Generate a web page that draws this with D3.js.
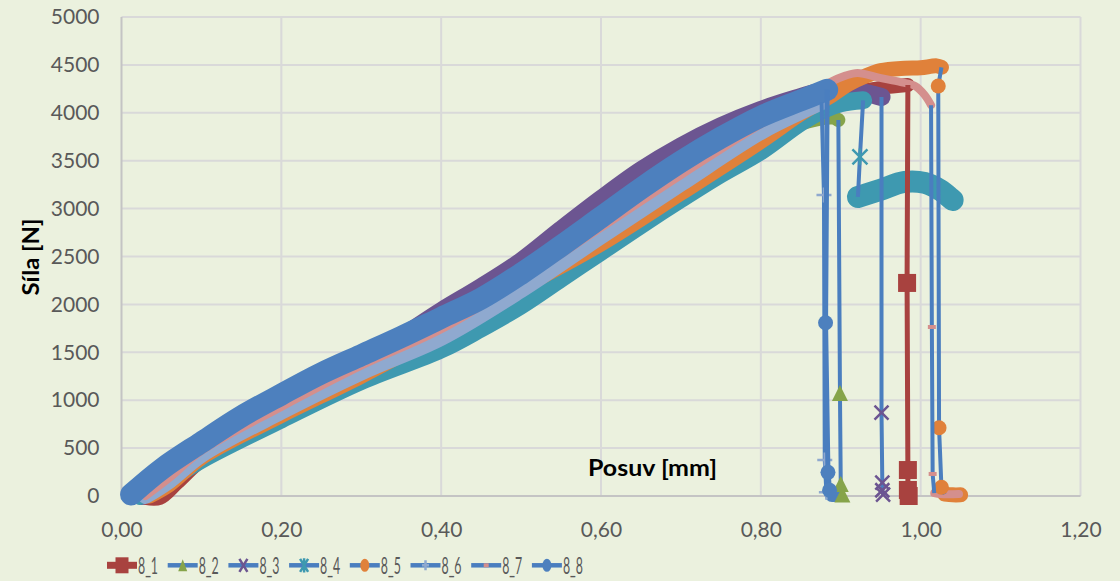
<!DOCTYPE html>
<html><head><meta charset="utf-8">
<script src="https://cdn.jsdelivr.net/npm/d3@7"></script>
<style>
html,body{margin:0;padding:0;background:#EBF1DE;}
svg{display:block;}
text{font-family:Lato,"Open Sans",sans-serif;}
</style></head><body>
<svg id="chart" width="1120" height="581"></svg>
<script>
// ---------------- DATA (mm, N) ----------------
const seriesNames = ["8_1","8_2","8_3","8_4","8_5","8_6","8_7","8_8"];
const xTicks = [0, 0.2, 0.4, 0.6, 0.8, 1.0, 1.2];
const yTicks = [0, 500, 1000, 1500, 2000, 2500, 3000, 3500, 4000, 4500, 5000];
const xTitle = "Posuv [mm]";
const yTitle = "Síla [N]";

// dense (rising) part, sparse drop part, dense tail part of every series
const rise8_1 = [[0.030,-20],[0.048,-20],[0.07,140],[0.10,370],[0.15,600],[0.20,810],[0.30,1230],[0.40,1600],[0.50,2100],[0.60,2650],[0.70,3200],[0.80,3740],[0.85,4000],[0.90,4180],[0.95,4260],[0.984,4290]];
const fall8_1 = [[0.983,2224],[0.984,271],[0.984,63],[0.985,0]];
const tail8_1 = [];

const rise8_2 = [[0.015,0],[0.05,180],[0.10,420],[0.20,880],[0.30,1320],[0.40,1800],[0.50,2300],[0.60,2800],[0.70,3300],[0.80,3720],[0.85,3890],[0.89,3950],[0.897,3925]];
const fall8_2 = [[0.899,1075],[0.900,125],[0.902,15]];
const tail8_2 = [];

const rise8_3 = [[0.025,0],[0.05,190],[0.10,480],[0.20,1000],[0.30,1420],[0.35,1660],[0.40,1930],[0.45,2180],[0.50,2450],[0.55,2780],[0.60,3100],[0.65,3400],[0.70,3650],[0.75,3860],[0.80,4030],[0.84,4140],[0.875,4220],[0.91,4240],[0.935,4200],[0.951,4165]];
const fall8_3 = [[0.951,870],[0.952,140],[0.952,60],[0.953,15]];
const tail8_3 = [];

const rise8_4 = [[0.023,0],[0.05,120],[0.10,380],[0.20,800],[0.30,1200],[0.40,1530],[0.45,1750],[0.50,1990],[0.55,2270],[0.60,2550],[0.65,2830],[0.70,3100],[0.75,3360],[0.80,3600],[0.85,3900],[0.88,4040],[0.90,4100],[0.928,4130]];
const fall8_4 = [[0.924,3540]];
const tail8_4 = [[0.9215,3122],[0.949,3195],[0.98,3278],[1.005,3268],[1.024,3195],[1.037,3111],[1.040,3090]];

const rise8_5 = [[0.035,0],[0.06,120],[0.10,400],[0.20,840],[0.30,1250],[0.40,1700],[0.50,2170],[0.60,2630],[0.70,3160],[0.80,3700],[0.85,3990],[0.89,4190],[0.91,4300],[0.93,4380],[0.95,4440],[0.98,4465],[1.00,4470],[1.02,4490],[1.026,4475]];
const fall8_5 = [[1.022,4280],[1.023,713],[1.026,91]];
const tail8_5 = [[1.03,20],[1.04,12],[1.05,12]];

const rise8_6 = [[0.03,0],[0.06,160],[0.10,430],[0.20,880],[0.30,1290],[0.40,1650],[0.50,2150],[0.60,2710],[0.70,3260],[0.80,3800],[0.85,4010],[0.876,4110]];
const fall8_6 = [[0.879,3142],[0.880,376],[0.882,40]];
const tail8_6 = [];

const rise8_7 = [[0.03,0],[0.06,190],[0.10,470],[0.20,930],[0.30,1360],[0.40,1740],[0.50,2250],[0.60,2800],[0.70,3350],[0.80,3880],[0.85,4110],[0.87,4230],[0.887,4320],[0.905,4385],[0.921,4416],[0.949,4364],[0.974,4322],[0.993,4280],[1.005,4186],[1.013,4080]];
const fall8_7 = [[1.014,1764],[1.015,230]];
const tail8_7 = [[1.017,30],[1.025,20],[1.048,20]];

const rise8_8 = [[0.012,15],[0.05,280],[0.10,560],[0.15,830],[0.20,1060],[0.25,1280],[0.30,1470],[0.35,1660],[0.40,1860],[0.45,2060],[0.50,2320],[0.55,2610],[0.60,2910],[0.65,3210],[0.70,3490],[0.75,3740],[0.80,3960],[0.85,4130],[0.883,4240]];
const fall8_8 = [[0.881,1808],[0.884,247],[0.886,60]];
const tail8_8 = [[0.889,15],[0.893,15]];

// ---------------- STYLE ----------------
const LBLUE = "#4A7EBF";
const styles = {
  "8_1": {line:"#A8423F", lw:5,   mark:"#A8423F", shape:"square",   ms:18, band:14, tband:16},
  "8_2": {line:LBLUE,     lw:4,   mark:"#86A44A", shape:"triangle", ms:16, band:14, tband:14},
  "8_3": {line:LBLUE,     lw:4,   mark:"#6C5591", shape:"x",        ms:14, band:18, tband:14},
  "8_4": {line:LBLUE,     lw:4,   mark:"#3E99B0", shape:"star",     ms:15, band:18, tband:22},
  "8_5": {line:LBLUE,     lw:4,   mark:"#E0813A", shape:"circle",   ms:15, band:15, tband:15},
  "8_6": {line:LBLUE,     lw:4,   mark:"#8FA9CF", shape:"plus",     ms:15, band:16, tband:14},
  "8_7": {line:LBLUE,     lw:4,   mark:"#D48F8D", shape:"dash",     ms:8,  band:8,  tband:8},
  "8_8": {line:LBLUE,     lw:5,   mark:"#4D80BE", shape:"circle",   ms:15, band:22, tband:15}
};
const dataBySeries = {
  "8_1": {rise:rise8_1, fall:fall8_1, tail:tail8_1},
  "8_2": {rise:rise8_2, fall:fall8_2, tail:tail8_2},
  "8_3": {rise:rise8_3, fall:fall8_3, tail:tail8_3},
  "8_4": {rise:rise8_4, fall:fall8_4, tail:tail8_4},
  "8_5": {rise:rise8_5, fall:fall8_5, tail:tail8_5},
  "8_6": {rise:rise8_6, fall:fall8_6, tail:tail8_6},
  "8_7": {rise:rise8_7, fall:fall8_7, tail:tail8_7},
  "8_8": {rise:rise8_8, fall:fall8_8, tail:tail8_8}
};

// ---------------- CHART ----------------
const svg = d3.select("#chart");
const x = d3.scaleLinear().domain([0, 1.2]).range([121.5, 1080.5]);
const y = d3.scaleLinear().domain([0, 5000]).range([496, 17]);

svg.append("rect").attr("width",1120).attr("height",581).attr("fill","#EBF1DE");

// grid
const grid = svg.append("g");
grid.selectAll("line.v").data(xTicks.filter(d => d > 0)).join("line")
  .attr("x1", d => x(d)).attr("x2", d => x(d)).attr("y1", y(5000)).attr("y2", y(0))
  .attr("stroke", "#D9D9D9").attr("stroke-width", 2);
grid.selectAll("line.h").data(yTicks.filter(d => d > 0)).join("line")
  .attr("x1", x(0)).attr("x2", x(1.2)).attr("y1", d => y(d)).attr("y2", d => y(d))
  .attr("stroke", "#D9D9D9").attr("stroke-width", 2);
// axis lines
svg.append("line").attr("x1", x(0)).attr("x2", x(0)).attr("y1", y(5000)).attr("y2", y(0))
  .attr("stroke", "#C4C4C4").attr("stroke-width", 2);
svg.append("line").attr("x1", x(0)).attr("x2", x(1.2)).attr("y1", y(0)).attr("y2", y(0))
  .attr("stroke", "#C4C4C4").attr("stroke-width", 2);

// tick labels
const fmtX = d => d3.format(".2f")(d).replace(".", ",");
const gx = svg.append("g").attr("transform", `translate(0,${y(0)})`)
  .call(d3.axisBottom(x).tickValues(xTicks).tickFormat(fmtX).tickSize(0).tickPadding(26));
const gy = svg.append("g").attr("transform", `translate(${x(0)},0)`)
  .call(d3.axisLeft(y).tickValues(yTicks).tickFormat(d3.format("d")).tickSize(0).tickPadding(22));
[gx, gy].forEach(g => {
  g.select(".domain").remove();
  g.selectAll("text").attr("fill", "#595959").style("font-size", "21px")
    .style("font-family", 'Lato,"Open Sans",sans-serif');
});

// axis titles
svg.append("text").attr("x", 652.5).attr("y", 476).attr("text-anchor", "middle")
  .attr("font-weight", "bold").attr("font-size", 23).attr("fill", "#000")
  .attr("textLength", 129).attr("lengthAdjust", "spacingAndGlyphs").text(xTitle);
svg.append("text").attr("transform", "translate(39,257) rotate(-90)").attr("text-anchor", "middle")
  .attr("font-weight", "bold").attr("font-size", 23).attr("fill", "#000")
  .attr("textLength", 77).attr("lengthAdjust", "spacingAndGlyphs").text(yTitle);

// markers
function drawMarker(g, shape, cx, cy, w, h, color) {
  const hw = w / 2, hh = h / 2;
  if (shape === "square") {
    g.append("rect").attr("x", cx - hw).attr("y", cy - hh).attr("width", w).attr("height", h).attr("fill", color);
  } else if (shape === "triangle") {
    g.append("path").attr("d", `M${cx},${cy - hh}L${cx + hw},${cy + hh}L${cx - hw},${cy + hh}Z`).attr("fill", color);
  } else if (shape === "circle") {
    g.append("ellipse").attr("cx", cx).attr("cy", cy).attr("rx", hw).attr("ry", hh).attr("fill", color);
  } else if (shape === "x") {
    g.append("path").attr("d", `M${cx - hw},${cy - hh}L${cx + hw},${cy + hh}M${cx + hw},${cy - hh}L${cx - hw},${cy + hh}`)
      .attr("stroke", color).attr("stroke-width", 2.5).attr("fill", "none");
  } else if (shape === "star") {
    g.append("path").attr("d", `M${cx - hw},${cy - hh}L${cx + hw},${cy + hh}M${cx + hw},${cy - hh}L${cx - hw},${cy + hh}M${cx},${cy - hh * 1.1}L${cx},${cy + hh * 1.1}`)
      .attr("stroke", color).attr("stroke-width", 2.5).attr("fill", "none");
  } else if (shape === "plus") {
    g.append("path").attr("d", `M${cx - hw},${cy}L${cx + hw},${cy}M${cx},${cy - hh}L${cx},${cy + hh}`)
      .attr("stroke", color).attr("stroke-width", 2.5).attr("fill", "none");
  } else if (shape === "dash") {
    g.append("rect").attr("x", cx - hw).attr("y", cy - hh / 2).attr("width", w).attr("height", h / 2).attr("fill", color);
  }
}

const lineGen = d3.line().x(d => x(d[0])).y(d => y(d[1]));
const bandGen = d3.line().x(d => x(d[0])).y(d => y(d[1])).curve(d3.curveCatmullRom.alpha(0.5));

// layer 1: dense bands (series order)
const bandLayer = svg.append("g");
seriesNames.forEach(name => {
  const s = styles[name], d = dataBySeries[name];
  const g = bandLayer.append("g");
  g.append("path").attr("d", lineGen(d.rise)).attr("fill", "none")
    .attr("stroke", s.line).attr("stroke-width", s.lw);
  g.append("path").attr("d", bandGen(d.rise)).attr("fill", "none")
    .attr("stroke", s.mark).attr("stroke-width", s.band)
    .attr("stroke-linecap", "round").attr("stroke-linejoin", "round");
  if (d.tail.length) {
    g.append("path").attr("d", bandGen(d.tail)).attr("fill", "none")
      .attr("stroke", s.mark).attr("stroke-width", s.tband)
      .attr("stroke-linecap", "round").attr("stroke-linejoin", "round");
  }
});

// layer 2: drops with their markers
const dropLayer = svg.append("g");
seriesNames.forEach(name => {
  const s = styles[name], d = dataBySeries[name];
  const g = dropLayer.append("g");
  const pts = [d.rise[d.rise.length - 1]].concat(d.fall, d.tail.length ? [d.tail[0]] : []);
  g.append("path").attr("d", lineGen(pts)).attr("fill", "none")
    .attr("stroke", s.line).attr("stroke-width", s.lw).attr("stroke-linejoin", "round");
  d.fall.forEach(p => drawMarker(g, s.shape, x(p[0]), y(p[1]), s.ms, s.ms, s.mark));
});

// legend
const legendX0 = 107, legendStep = 60.7, legendY = 565.3;
const legendMarkSize = {
  "8_1": [13, 16], "8_2": [9, 12], "8_3": [8, 13], "8_4": [8, 13],
  "8_5": [9, 13], "8_6": [7, 10], "8_7": [5, 8], "8_8": [9, 13]
};
const legend = svg.append("g");
seriesNames.forEach((name, i) => {
  const s = styles[name];
  const lx = legendX0 + i * legendStep;
  const g = legend.append("g");
  g.append("line").attr("x1", lx).attr("x2", lx + 30).attr("y1", legendY).attr("y2", legendY)
    .attr("stroke", s.line).attr("stroke-width", name === "8_1" ? 7 : 4.5);
  const [mw, mh] = legendMarkSize[name];
  drawMarker(g, s.shape, lx + 15, legendY, mw, mh, s.mark);
  g.append("text").attr("x", lx + 31).attr("y", 574).attr("font-size", 24).attr("fill", "#595959")
    .attr("textLength", 20).attr("lengthAdjust", "spacingAndGlyphs").text(name);
});
</script>
</body></html>
